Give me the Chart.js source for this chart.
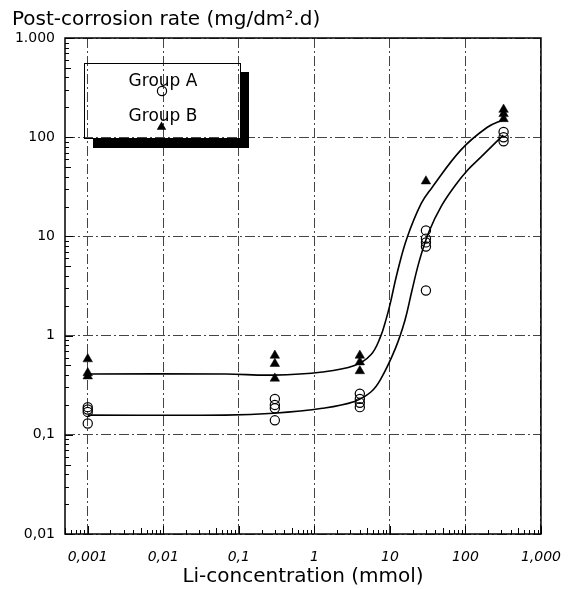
<!DOCTYPE html>
<html><head><meta charset="utf-8">
<script src="https://cdn.jsdelivr.net/npm/chart.js@4.4.1/dist/chart.umd.min.js"></script>
<style>html,body{margin:0;padding:0;background:#fff;overflow:hidden}</style>
</head><body>
<canvas id="c" width="576" height="589"></canvas>
<script>
// ---- data ----
const xTickValues = [0.001, 0.01, 0.1, 1, 10, 100, 1000];
const xTickLabels = ['0,001', '0,01', '0,1', '1', '10', '100', '1,000'];
const yTickValues = [0.01, 0.1, 1, 10, 100, 1000];
const yTickLabels = ['0,01', '0,1', '1', '10', '100', '1.000'];

const groupAX = [0.001, 0.001, 0.001, 0.001, 0.3, 0.3, 0.3, 0.3, 4, 4, 4, 4, 30, 30, 30, 30, 30, 320, 320, 320];
const groupAY = [0.19, 0.18, 0.17, 0.13, 0.23, 0.20, 0.185, 0.14, 0.26, 0.23, 0.21, 0.19, 11.5, 9.5, 8.7, 7.9, 2.85, 113, 100, 91];

const groupBX = [0.001, 0.001, 0.001, 0.3, 0.3, 0.3, 4, 4, 4, 30, 320, 320, 320];
const groupBY = [0.58, 0.42, 0.39, 0.63, 0.52, 0.37, 0.63, 0.54, 0.44, 36, 190, 172, 153];

const curveAX = [0.001, 0.066, 0.29, 1.28, 3.4, 5.6, 7.5, 11.8, 15.8, 19.5, 24.6, 33, 48.6, 74, 108, 160, 316];
const curveAY = [0.158, 0.158, 0.165, 0.185, 0.217, 0.27, 0.36, 0.74, 1.42, 2.8, 5.7, 11.2, 20.5, 33, 47, 63, 105];

const curveBX = [0.001, 0.066, 0.29, 1.28, 3.4, 5.6, 7.5, 9.0, 10.1, 12.5, 16.8, 26, 36, 88, 195, 316];
const curveBY = [0.41, 0.41, 0.40, 0.43, 0.50, 0.64, 0.97, 1.5, 2.1, 4.3, 9.6, 21.5, 31, 75, 126, 150];

const seriesLabels = ['Group A', 'Group B'];
const titleText = 'Post-corrosion rate (mg/dm².d)';
const xTitleText = 'Li-concentration (mmol)';

function pts(xs, ys) { return xs.map((x, i) => ({ x: x, y: ys[i] })); }

const FONT = 'DejaVu Sans';

// frame + minor ticks
const framePlugin = {
  id: 'frame',
  beforeDatasetsDraw(chart) {
    const { ctx, chartArea: a, scales } = chart;
    ctx.save();
    ctx.strokeStyle = '#000';
    ctx.lineWidth = 1;
    const xs = scales.x;
    for (let d = -4; d <= 3; d++) {
      for (let k = 1; k <= 9; k++) {
        const v = k * Math.pow(10, d);
        if (v < xs.min * 0.999 || v > xs.max * 1.001) continue;
        const px = Math.round(xs.getPixelForValue(v)) + 0.5;
        const len = k === 1 ? 8 : (k === 5 ? 6 : 4);
        ctx.beginPath(); ctx.moveTo(px, a.bottom); ctx.lineTo(px, a.bottom - len); ctx.stroke();
      }
    }
    const ys = scales.y;
    for (let d = -2; d <= 3; d++) {
      for (let k = 1; k <= 9; k++) {
        const v = k * Math.pow(10, d);
        if (v < ys.min * 0.999 || v > ys.max * 1.001) continue;
        const py = Math.round(ys.getPixelForValue(v)) + 0.5;
        const len = k === 1 ? 8 : (k === 5 ? 6 : 4);
        ctx.beginPath(); ctx.moveTo(a.left, py); ctx.lineTo(a.left + len, py); ctx.stroke();
      }
    }
    ctx.lineWidth = 1.5;
    ctx.strokeRect(a.left, a.top, a.right - a.left, a.bottom - a.top);
    ctx.restore();
  }
};

// legend box with shadow, inside the plot
const legendPlugin = {
  id: 'boxLegend',
  afterDraw(chart) {
    const ctx = chart.ctx;
    ctx.save();
    ctx.fillStyle = '#000';
    ctx.fillRect(240, 72, 9, 76);
    ctx.fillRect(93, 139, 156, 9);
    ctx.strokeStyle = '#000';
    ctx.lineWidth = 1;
    ctx.strokeRect(84.5, 63.5, 156, 75);
    ctx.fillStyle = '#000';
    ctx.font = '17px "' + FONT + '"';
    ctx.textAlign = 'center';
    ctx.textBaseline = 'alphabetic';
    ctx.fillText(chart.data.datasets[0].label, 163, 86);
    ctx.fillText(chart.data.datasets[1].label, 163, 121);
    ctx.lineWidth = 1.2;
    ctx.beginPath(); ctx.arc(162, 91, 4.6, 0, Math.PI * 2); ctx.stroke();
    const r = 5.5, cx = 161.5, cy = 127;
    ctx.beginPath();
    ctx.moveTo(cx, cy - r);
    ctx.lineTo(cx + r * Math.sin(2 * Math.PI / 3), cy - r * Math.cos(2 * Math.PI / 3));
    ctx.lineTo(cx + r * Math.sin(4 * Math.PI / 3), cy - r * Math.cos(4 * Math.PI / 3));
    ctx.closePath(); ctx.fill();
    ctx.restore();
  }
};

new Chart(document.getElementById('c'), {
  type: 'scatter',
  data: {
    datasets: [
      { label: seriesLabels[0], data: pts(groupAX, groupAY), pointStyle: 'circle', pointRadius: 4.6,
        borderColor: '#000', backgroundColor: 'rgba(0,0,0,0)', borderWidth: 1.2, showLine: false },
      { label: seriesLabels[1], data: pts(groupBX, groupBY), pointStyle: 'triangle', pointRadius: 5.5,
        borderColor: '#000', backgroundColor: '#000', borderWidth: 0.5, showLine: false },
      { label: 'fit A', data: pts(curveAX, curveAY), showLine: true, pointRadius: 0, borderColor: '#000',
        borderWidth: 1.6, tension: 0.4, fill: false },
      { label: 'fit B', data: pts(curveBX, curveBY), showLine: true, pointRadius: 0, borderColor: '#000',
        borderWidth: 1.6, tension: 0.4, fill: false }
    ]
  },
  options: {
    responsive: false,
    animation: false,
    devicePixelRatio: 1,
    layout: { padding: { left: 12, right: 21, top: 0, bottom: 0 } },
    plugins: {
      legend: { display: false },
      tooltip: { enabled: false },
      title: {
        display: true, text: titleText, align: 'start', color: '#000',
        font: { family: FONT, size: 20, weight: 'normal' },
        padding: { top: 8, bottom: 6 }
      }
    },
    scales: {
      x: {
        type: 'logarithmic', min: 0.0005, max: 1000, bounds: 'data',
        afterBuildTicks: s => { s.ticks = xTickValues.map(v => ({ value: v })); },
        afterFit: s => { s.height = 55; },
        ticks: {
          autoSkip: false, maxRotation: 0, minRotation: 0, padding: 15, color: '#000',
          font: { family: FONT, size: 14, style: 'italic' },
          callback: (v, i) => xTickLabels[i]
        },
        grid: { color: '#444', lineWidth: 1, drawTicks: false },
        border: { display: false, dash: [10, 3, 2, 3] },
        title: {
          display: true, text: xTitleText, color: '#000',
          font: { family: FONT, size: 20, weight: 'normal' }, padding: { top: 0, bottom: 0 }
        }
      },
      y: {
        type: 'logarithmic', min: 0.01, max: 1000, bounds: 'data',
        afterBuildTicks: s => { s.ticks = yTickValues.map(v => ({ value: v })); },
        afterFit: s => { s.width = 53; },
        ticks: {
          autoSkip: false, padding: 10, color: '#000',
          font: { family: FONT, size: 14 },
          callback: (v, i) => yTickLabels[i]
        },
        grid: { color: '#444', lineWidth: 1, drawTicks: false },
        border: { display: false, dash: [10, 3, 2, 3] }
      }
    }
  },
  plugins: [framePlugin, legendPlugin]
});
</script>
</body></html>
